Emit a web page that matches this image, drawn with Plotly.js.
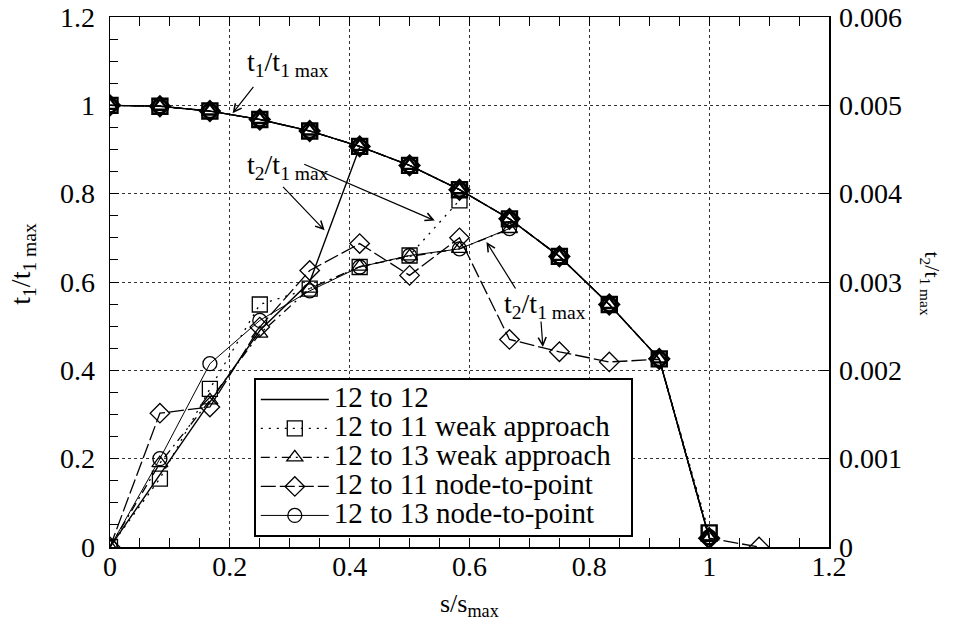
<!DOCTYPE html>
<html>
<head>
<meta charset="utf-8">
<script src="https://cdn.plot.ly/plotly-3.0.1.min.js"></script>
<style>html,body{margin:0;padding:0;background:#fff;}#chart{width:963px;height:625px;}</style>
</head>
<body>
<div id="chart"></div>
<script>
// s/s_max positions
const sPos = [0, 0.0833, 0.1667, 0.25, 0.3333, 0.4167, 0.5, 0.5833, 0.6667, 0.75, 0.8333, 0.9167, 1.0, 1.0833];

// t1/t1max (left axis)
const t1_12to12   = [1.0, 0.998, 0.987, 0.968, 0.942, 0.907, 0.864, 0.809, 0.743, 0.658, 0.549, 0.426, 0.022];
const t1_12to11w  = [1.0, 0.998, 0.987, 0.968, 0.942, 0.907, 0.864, 0.809, 0.743, 0.658, 0.549, 0.426, 0.032];
const t1_12to13w  = [1.0, 0.998, 0.987, 0.968, 0.942, 0.907, 0.864, 0.809, 0.743, 0.658, 0.549, 0.426, 0.022];
const t1_12to11n  = [1.0, 0.998, 0.987, 0.968, 0.942, 0.907, 0.864, 0.809, 0.743, 0.658, 0.549, 0.426, 0.020];
const t1_12to13n  = [1.0, 0.998, 0.987, 0.968, 0.942, 0.907, 0.864, 0.809, 0.743, 0.658, 0.549, 0.426, 0.022];

// t2/t1max (right axis)
const t2_12to12   = [0, 0.000825, 0.00164, 0.00245, 0.0030, 0.004525];
const t2_12to11w  = [0, 0.000775, 0.00179, 0.002745, 0.002925, 0.00317, 0.0033, 0.003925];
const t2_12to13w  = [0, 0.00095, 0.00166, 0.002415, 0.002925, 0.003175, 0.00329, 0.003375, 0.0036];
const t2_12to11n  = [0, 0.001515, 0.001585, 0.00249, 0.00313, 0.003435, 0.003075, 0.0035, 0.00235, 0.00221, 0.002095, 0.002125, 0.0001, 0];
const t2_12to13n  = [0, 0.0010, 0.002075, 0.002565, 0.0029, 0.00317, 0.0033, 0.003375, 0.003605];

const seriesNames = ['12 to 12', '12 to 11 weak approach', '12 to 13 weak approach', '12 to 11 node-to-point', '12 to 13 node-to-point'];

const FONT = '"Liberation Serif", "DejaVu Serif", serif';
const BIG = 'font-size:29px';

const styles = [
  {dash: 'solid', width: 1.4, symbol: null},
  {dash: '2px,6px', width: 1.3, symbol: 'square-open', size: 15},
  {dash: '9px,5px,2px,5px', width: 1.3, symbol: 'triangle-up-open', size: 14},
  {dash: '15px,4px', width: 1.3, symbol: 'diamond-open', size: 15},
  {dash: 'solid', width: 1.0, symbol: 'circle-open', size: 14}
];
const t1s = [t1_12to12, t1_12to11w, t1_12to13w, t1_12to11n, t1_12to13n];
const t2s = [t2_12to12, t2_12to11w, t2_12to13w, t2_12to11n, t2_12to13n];

function makeTrace(i, yv, axis, showLeg, mlw) {
  const st = styles[i];
  const tr = {
    x: sPos.slice(0, yv.length), y: yv, yaxis: axis,
    mode: st.symbol ? 'lines+markers' : 'lines',
    line: {color: '#000', width: st.width, dash: st.dash},
    legendgroup: 'g' + i, showlegend: showLeg, hoverinfo: 'skip'
  };
  if (st.symbol) tr.marker = {symbol: st.symbol, size: st.size, color: '#000', line: {color: '#000', width: mlw}};
  if (showLeg) tr.name = '<span style="' + BIG + '">' + seriesNames[i] + '&nbsp;&nbsp;</span>';
  return tr;
}

const traces = [];
for (let i = 0; i < 5; i++) traces.push(makeTrace(i, t2s[i], 'y2', true, 1.3));
for (let i = 0; i < 5; i++) traces.push(makeTrace(i, t1s[i], 'y', false, 2.4));

const arrowCommon = {showarrow: true, arrowhead: 5, arrowsize: 1.3, arrowwidth: 1.2, arrowcolor: '#000', axref: 'pixel', ayref: 'pixel', text: '', xref: 'x', yref: 'y'};
const lblFont = {family: FONT, size: 28, color: '#000'};

const layout = {
  width: 963, height: 625,
  margin: {l: 110, r: 134, t: 17, b: 78, pad: 0},
  paper_bgcolor: '#fff', plot_bgcolor: '#fff',
  font: {family: FONT, size: 26, color: '#000'},
  showlegend: true,
  legend: {
    x: 0.2, y: 0.019, xanchor: 'left', yanchor: 'bottom',
    bgcolor: '#fff', bordercolor: '#000', borderwidth: 2,
    font: {family: FONT, size: 20, color: '#000'},
    itemwidth: 68, tracegroupgap: 0, traceorder: 'normal'
  },
  xaxis: {
    range: [0, 1.2], dtick: 0.2, tick0: 0, ticks: 'inside', ticklen: 9, tickwidth: 1, tickcolor: '#000',
    showline: true, linecolor: '#000', linewidth: 1.5, mirror: 'allticks',
    showgrid: true, gridcolor: '#000', gridwidth: 0.8, griddash: 'dot', zeroline: false,
    minor: {dtick: 0.05, ticks: 'inside', ticklen: 8, tickcolor: '#000', showgrid: false},
    tickfont: {family: FONT, size: 28, color: '#000'}, ticklabelstandoff: -6
  },
  yaxis: {
    range: [0, 1.2], dtick: 0.2, tick0: 0, ticks: 'inside', ticklen: 9, tickwidth: 1, tickcolor: '#000',
    showline: true, linecolor: '#000', linewidth: 1.5, mirror: false,
    showgrid: true, gridcolor: '#000', gridwidth: 0.8, griddash: 'dot', zeroline: false,
    minor: {dtick: 0.05, ticks: 'inside', ticklen: 8, tickcolor: '#000', showgrid: false},
    tickfont: {family: FONT, size: 28, color: '#000'}, ticklabelstandoff: 8
  },
  yaxis2: {
    range: [0, 0.006], dtick: 0.001, tick0: 0, overlaying: 'y', side: 'right',
    ticks: 'inside', ticklen: 9, tickwidth: 1, tickcolor: '#000',
    showline: true, linecolor: '#000', linewidth: 1.5, showgrid: false, zeroline: false,
    tickfont: {family: FONT, size: 28, color: '#000'}, ticklabelstandoff: 3
  },
  annotations: [
    {xref: 'paper', yref: 'paper', x: 0.5, y: -0.11, xanchor: 'center', yanchor: 'middle', showarrow: false,
     text: 's/s<sub>max</sub>', font: {family: FONT, size: 26, color: '#000'}},
    {xref: 'paper', yref: 'paper', x: -0.122, y: 0.535, xanchor: 'center', yanchor: 'middle', showarrow: false,
     textangle: -90, text: 't<sub>1</sub>/t<sub>1 max</sub>', font: {family: FONT, size: 28, color: '#000'}},
    {xref: 'paper', yref: 'paper', x: 1.142, y: 0.497, xanchor: 'center', yanchor: 'middle', showarrow: false,
     textangle: 90, text: 't<sub>2</sub>/t<sub>1 max</sub>', font: {family: FONT, size: 22, color: '#000'}},
    {xref: 'x', yref: 'y', x: 0.226, y: 1.095, xanchor: 'left', yanchor: 'middle', showarrow: false,
     text: 't<sub>1</sub>/t<sub>1 max</sub>', font: lblFont},
    {xref: 'x', yref: 'y', x: 0.2255, y: 0.862, xanchor: 'left', yanchor: 'middle', showarrow: false,
     text: 't<sub>2</sub>/t<sub>1 max</sub>', font: lblFont},
    {xref: 'x', yref: 'y', x: 0.654, y: 0.547, xanchor: 'left', yanchor: 'middle', showarrow: false,
     text: 't<sub>2</sub>/t<sub>1 max</sub>', font: lblFont},
    Object.assign({x: 0.2046, y: 0.982, ax: 22, ay: -28}, arrowCommon),
    Object.assign({x: 0.3582, y: 0.717, ax: -43, ay: -45}, arrowCommon),
    Object.assign({x: 0.542, y: 0.739, ax: -132, ay: -57}, arrowCommon),
    Object.assign({x: 0.6283, y: 0.6905, ax: 30, ay: 48}, arrowCommon),
    Object.assign({x: 0.7225, y: 0.4528, ax: -2, ay: -27}, arrowCommon)
  ]
};

Plotly.newPlot('chart', traces, layout, {staticPlot: true, displayModeBar: false});
</script>
</body>
</html>
